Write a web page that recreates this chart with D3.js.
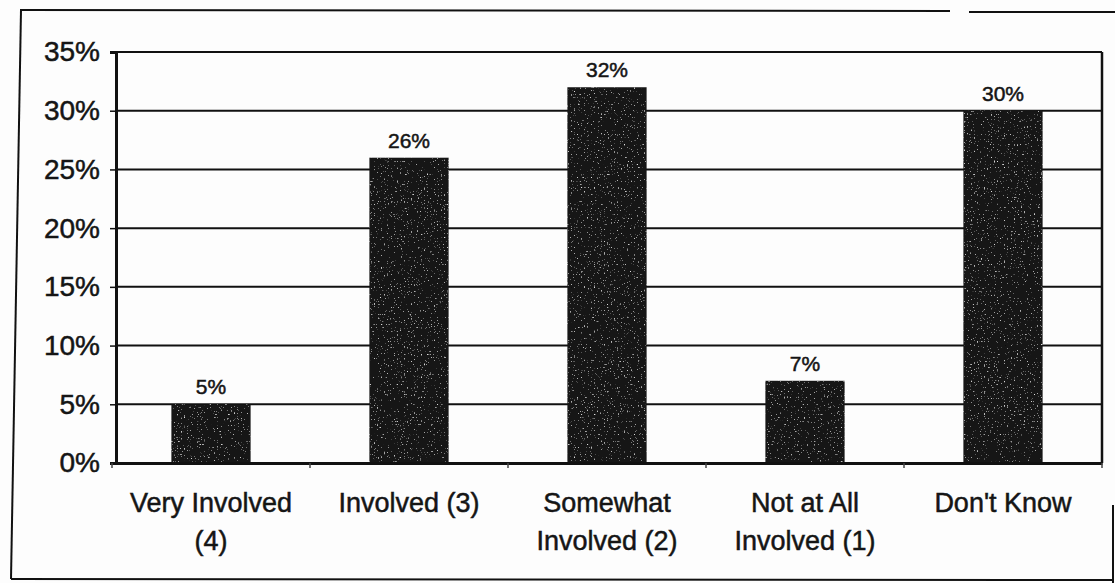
<!DOCTYPE html>
<html>
<head>
<meta charset="utf-8">
<script src="https://cdn.jsdelivr.net/npm/d3@7"></script>
<style>
  html, body { margin: 0; padding: 0; background: #fdfdfd; }
  svg { display: block; }
  text { font-family: "Liberation Sans", Arial, sans-serif; fill: #151515; stroke: #151515; stroke-width: 0.5px; }
</style>
</head>
<body>
<svg id="chart" width="1115" height="583"></svg>
<script>
// Survey responses: level of involvement
const categories = ["Very Involved\n(4)", "Involved (3)", "Somewhat\nInvolved (2)", "Not at All\nInvolved (1)", "Don't Know"];
const values = [5, 26, 32, 7, 30];
const yTicks = [0, 5, 10, 15, 20, 25, 30, 35];

const svg = d3.select("#chart");

const x = d3.scaleBand().domain(categories).range([112, 1102]).paddingInner(0.6).paddingOuter(0.3);
const y = d3.scaleLinear().domain([0, 35]).range([463, 52]);

// Speckled dark fill for the bars
const defs = svg.append("defs");
const f = defs.append("filter").attr("id", "grain")
  .attr("x", 0).attr("y", 0).attr("width", "100%").attr("height", "100%");
f.append("feTurbulence").attr("type", "fractalNoise").attr("baseFrequency", 0.7)
  .attr("numOctaves", 1).attr("seed", 7).attr("result", "noise");
f.append("feColorMatrix").attr("in", "noise").attr("type", "matrix")
  .attr("values", "0 0 0 0 0.75  0 0 0 0 0.75  0 0 0 0 0.75  6 0 0 0 -3.9")
  .attr("result", "dots");
f.append("feComposite").attr("in", "dots").attr("in2", "SourceGraphic").attr("operator", "in").attr("result", "dotsIn");
const merge = f.append("feMerge");
merge.append("feMergeNode").attr("in", "SourceGraphic");
merge.append("feMergeNode").attr("in", "dotsIn");

// Outer frame
const frame = svg.append("g").attr("stroke", "#111").attr("stroke-width", 2).attr("fill", "none");
frame.append("line").attr("x1", 20).attr("y1", 10).attr("x2", 950).attr("y2", 11);
frame.append("line").attr("x1", 969).attr("y1", 12).attr("x2", 1115).attr("y2", 12);
frame.append("line").attr("x1", 21).attr("y1", 10).attr("x2", 11).attr("y2", 579);
frame.append("line").attr("x1", 11).attr("y1", 579).attr("x2", 1113).attr("y2", 580);
frame.append("line").attr("x1", 1113).attr("y1", 505).attr("x2", 1113).attr("y2", 583);

// Gridlines
svg.append("g").selectAll("line").data(yTicks.filter(d => d > 0)).join("line")
  .attr("x1", 116).attr("x2", 1102)
  .attr("y1", d => y(d)).attr("y2", d => y(d))
  .attr("stroke", "#111").attr("stroke-width", 2);

// Right side of the plot frame
svg.append("line").attr("x1", 1102).attr("x2", 1102).attr("y1", y(35)).attr("y2", y(0))
  .attr("stroke", "#111").attr("stroke-width", 2.5);

// Bars
svg.append("g").selectAll("rect").data(values).join("rect")
  .attr("x", (d, i) => x(categories[i]))
  .attr("y", d => y(d))
  .attr("width", x.bandwidth())
  .attr("height", d => y(0) - y(d))
  .attr("fill", "#161616")
  .attr("filter", "url(#grain)");

// Value labels
svg.append("g").selectAll("text").data(values).join("text")
  .attr("x", (d, i) => x(categories[i]) + x.bandwidth() / 2)
  .attr("y", d => y(d) - 10)
  .attr("text-anchor", "middle")
  .attr("font-size", 21)
  .text(d => d + "%");

// Y axis
const yAxis = svg.append("g").attr("transform", "translate(116,0)")
  .call(d3.axisLeft(y).tickValues(yTicks).tickFormat(d => d + "%").tickSize(6).tickPadding(10));
yAxis.select(".domain").attr("stroke", "#111").attr("stroke-width", 3);
yAxis.selectAll(".tick line").attr("stroke", "#111").attr("stroke-width", 1.5);
yAxis.selectAll(".tick text").attr("font-size", 28).attr("fill", "#151515")
  .style("font-family", "'Liberation Sans', Arial, sans-serif");

// X axis
const xAxis = svg.append("g").attr("transform", `translate(0,${y(0)})`)
  .call(d3.axisBottom(x).tickSize(0).tickFormat(""));
xAxis.select(".domain").attr("stroke", "#111").attr("stroke-width", 3);

// Small tick marks between categories
const step = x.step();
svg.append("g").selectAll("line").data(d3.range(categories.length + 1)).join("line")
  .attr("x1", i => 112 + i * step).attr("x2", i => 112 + i * step)
  .attr("y1", y(0)).attr("y2", y(0) + 5)
  .attr("stroke", "#444").attr("stroke-width", 1.5);

// Category labels (multi-line)
const cat = svg.append("g").selectAll("text").data(categories).join("text")
  .attr("x", d => x(d) + x.bandwidth() / 2)
  .attr("y", 512)
  .attr("text-anchor", "middle")
  .attr("font-size", 27);
cat.each(function (d) {
  const lines = d.split("\n");
  d3.select(this).selectAll("tspan").data(lines).join("tspan")
    .attr("x", x(d) + x.bandwidth() / 2)
    .attr("dy", (l, i) => i === 0 ? 0 : 38)
    .text(l => l);
});
</script>
</body>
</html>
